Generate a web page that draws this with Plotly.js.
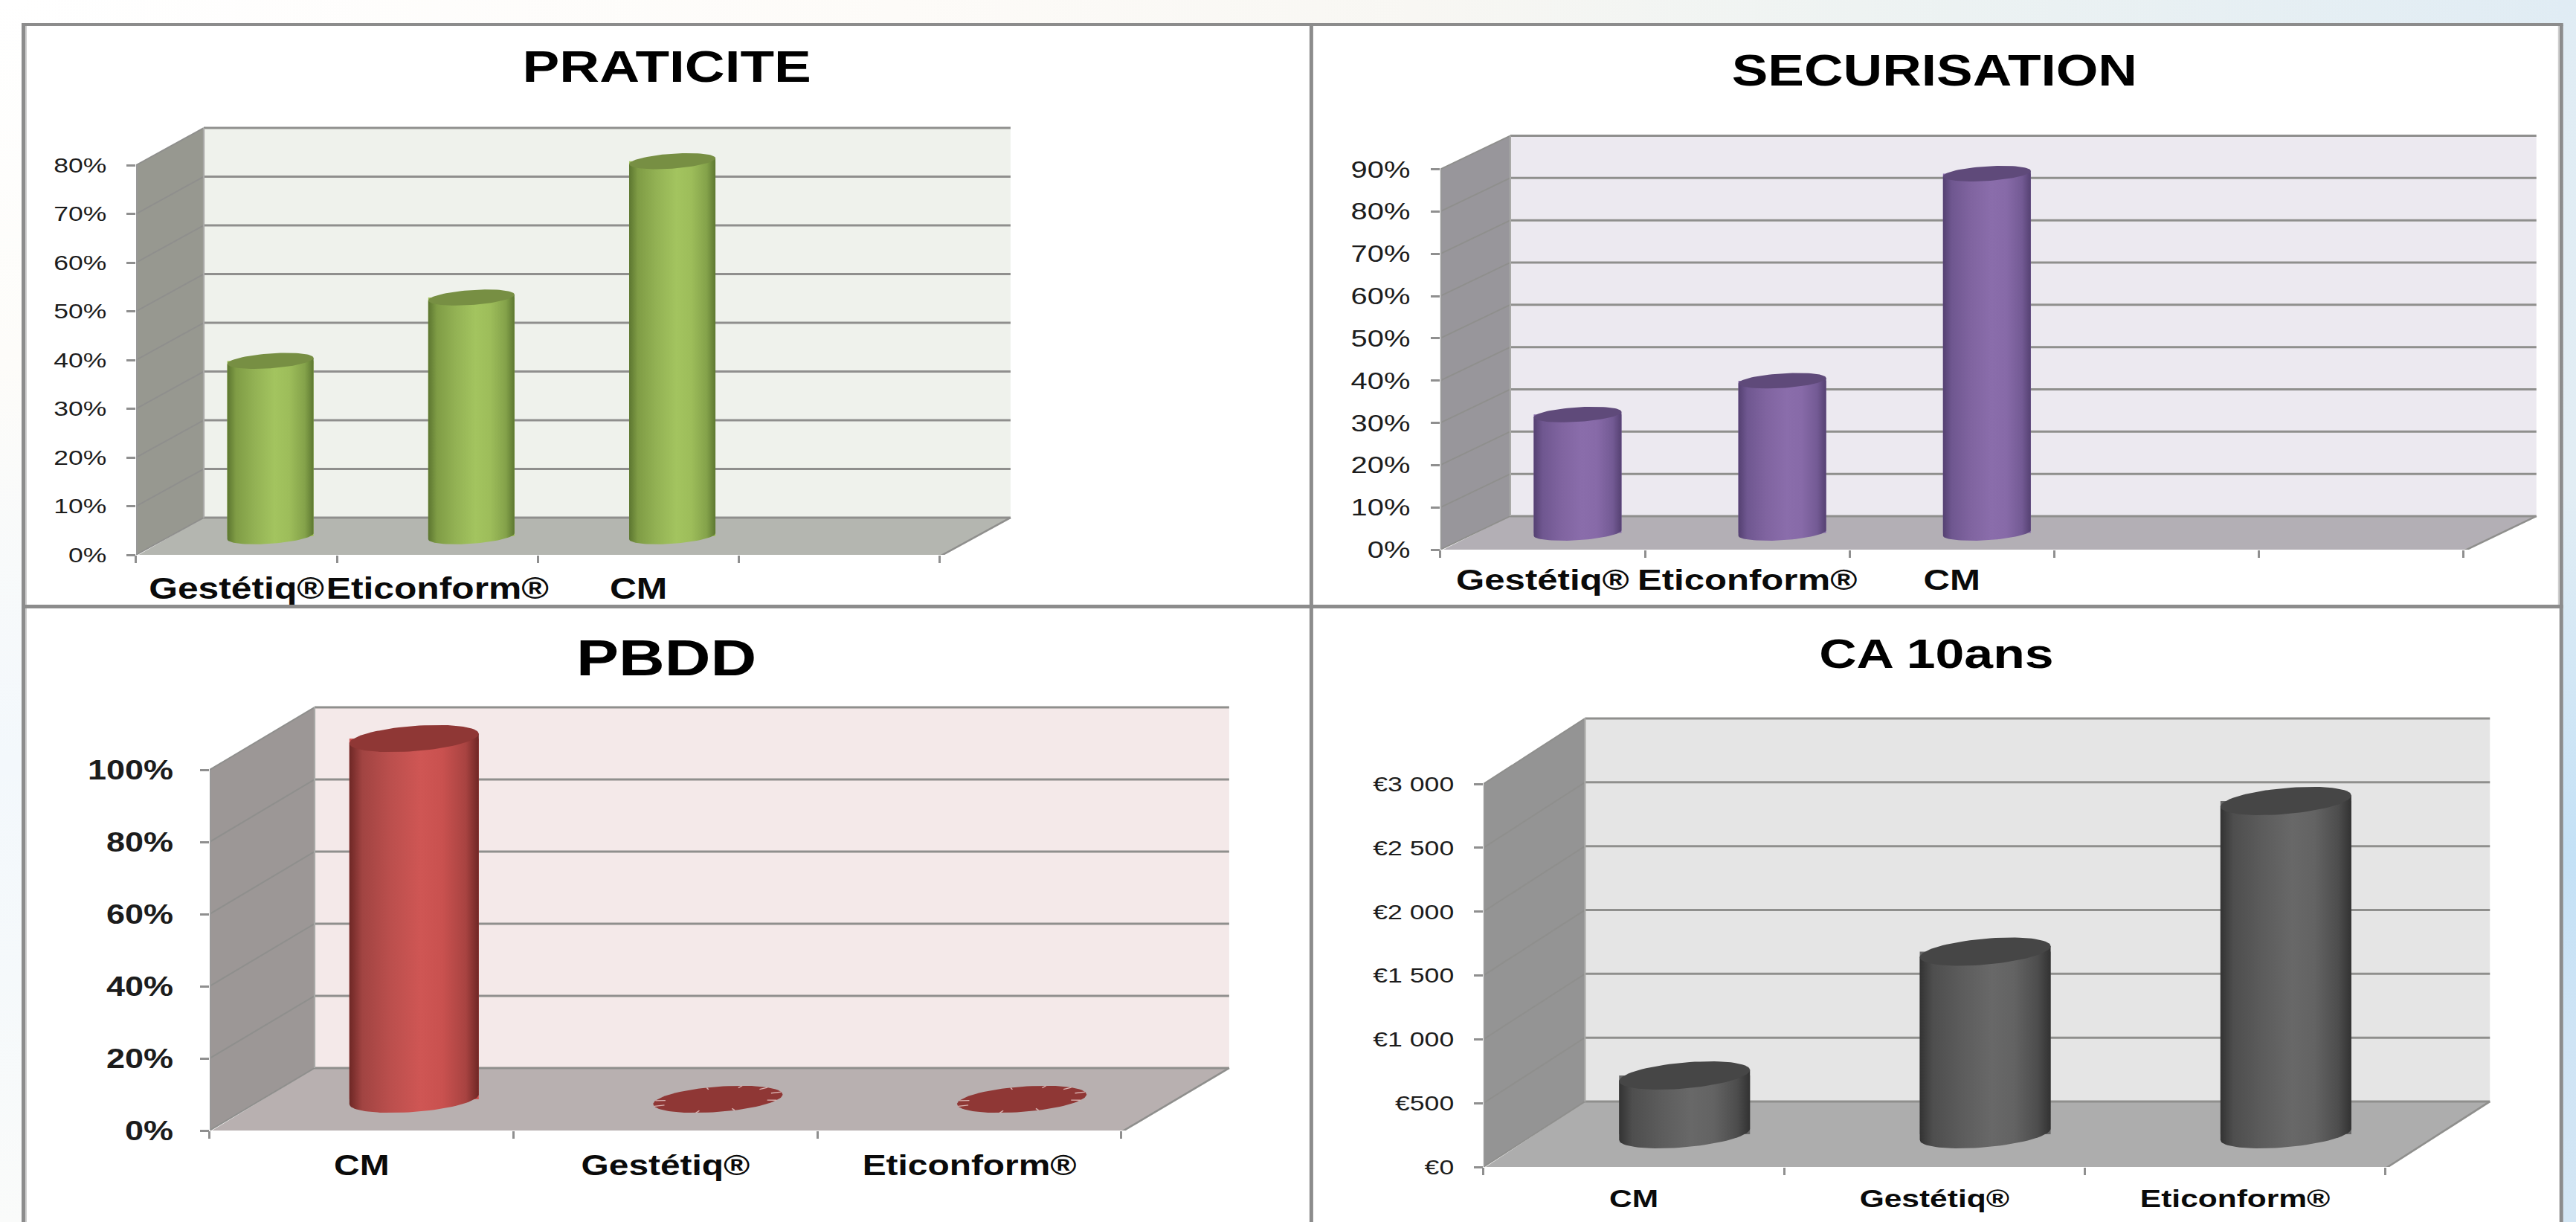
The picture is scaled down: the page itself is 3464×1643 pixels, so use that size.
<!DOCTYPE html>
<html>
<head>
<meta charset="utf-8">
<script src="https://cdn.plot.ly/plotly-3.0.1.min.js"></script>
<style>
html,body{margin:0;padding:0;width:3464px;height:1643px;overflow:hidden;background:#fff}
.bg{position:absolute}
#bgTop{left:0;top:0;width:3464px;height:40px;background:linear-gradient(90deg,#ffffff 0%,#fdfbf8 35%,#f8f7f3 55%,#eef3f2 72%,#e0ecf4 100%)}
#bgRight{left:3440px;top:0;width:24px;height:1643px;background:linear-gradient(180deg,#e0ecf4 0%,#e2edf4 40%,#c4e1f6 70%,#cfe4f5 85%,#d3e6f4 100%)}
#bgLeft{left:0;top:0;width:36px;height:1643px;background:linear-gradient(180deg,#ffffff 0%,#fdfcf9 30%,#f3f8fc 62%,#f5f9fb 80%,#fafbfa 100%)}
#chart{position:absolute;left:0;top:0;transform-origin:0 0}
</style>
</head>
<body>
<div class="bg" id="bgTop"></div><div class="bg" id="bgRight"></div><div class="bg" id="bgLeft"></div>
<div id="chart"></div>
<script>
// ---------- data ----------
const titles = ["PRATICITE", "SECURISATION", "PBDD", "CA 10ans"];
const categoriesA = ["Gestétiq®", "Eticonform®", "CM"];
const categoriesB = ["CM", "Gestétiq®", "Eticonform®"];
const praticite = [36, 49, 77];
const securisation = [28, 36, 85];
const pbdd = [100, 0, 0];
const ca10ans = [460, 1430, 2610];
const pctTicks10to80 = [0, 10, 20, 30, 40, 50, 60, 70, 80];
const pctTicks10to90 = [0, 10, 20, 30, 40, 50, 60, 70, 80, 90];
const pctTicks20to100 = [0, 20, 40, 60, 80, 100];
const euroTicks = [0, 500, 1000, 1500, 2000, 2500, 3000];
const euroLabels = ["€0", "€500", "€1 000", "€1 500", "€2 000", "€2 500", "€3 000"];

// ---------- page geometry (reference pixels) and styles ----------
const W = 3464, H = 1643;
const STRETCH = 1.25;           // the reference is a picture stretched sideways
const plotW = W / STRETCH;
const FONT = '"Liberation Sans", Arial, sans-serif';
const GRID = '#8f8f8d';
const OVER = 4;                 // the back wall runs a little past the floor corner

const panels = [
 {title:titles[0], tx:897, ty:89, tsize:59.7, cats:categoriesA, vals:praticite, slots:4, ticks:pctTicks10to80,
  labels:pctTicks10to80.map(v=>v+'%'), x0:183, x1:1264, yb:746, yt:222, top:80, dx:91, dy:50, a:58, b:10, s:4,
  back:'#eff2ec', floor:'#b4b6b0', side:'#979890',
  scale:['#5c7630','#7f9c45','#93b254','#a3c45f','#9dbd5a','#84a24a','#5d7831'], cap:'#778f43',
  tickSize:28.4, tickWeight:400, catSize:39.8, yStand:16, xStand:8, ticklen:9},
 {title:titles[1], tx:2601, ty:94, tsize:58.3, cats:categoriesA, vals:securisation, slots:5, ticks:pctTicks10to90,
  labels:pctTicks10to90.map(v=>v+'%'), x0:1937, x1:3313, yb:739, yt:227.5, top:90, dx:94, dy:45, a:59, b:9.8, s:3.7,
  back:'#ece9f0', floor:'#b3afb5', side:'#98969b',
  scale:['#544071','#6f5790','#8064a0','#8a6dab','#876aa8','#735a94','#554172'], cap:'#5f4a7a',
  tickSize:31.9, tickWeight:400, catSize:39.3, yStand:16, xStand:4, ticklen:9},
 {title:titles[2], tx:896, ty:884, tsize:68.4, cats:categoriesB, vals:pbdd, slots:3, ticks:pctTicks20to100,
  labels:pctTicks20to100.map(v=>v+'%'), x0:282, x1:1508, yb:1520, yt:1035, top:100, dx:141, dy:84, a:87, b:17, s:6.5,
  back:'#f4e9e9', floor:'#b8b0b0', side:'#9c9796',
  scale:['#6e2725','#a14442','#bb4f4d','#cf5654','#c9514f','#a84341','#6f2725'], cap:'#8f3735',
  tickSize:36, tickWeight:700, catSize:38.3, yStand:22, xStand:11, ticklen:9},
 {title:titles[3], tx:2604, ty:878, tsize:55.8, cats:categoriesB, vals:ca10ans, slots:3, ticks:euroTicks,
  labels:euroLabels, x0:1995, x1:3208, yb:1569, yt:1054, top:3000, dx:136.5, dy:88, a:88, b:17.5, s:7.5,
  back:'#e5e5e5', floor:'#adadad', side:'#949494',
  scale:['#333333','#4e4e4e','#5c5c5c','#686868','#636363','#4d4d4d','#323232'], cap:'#464646',
  tickSize:28.5, tickWeight:400, catSize:34, yStand:16, xStand:9, ticklen:9}
];
const scaleStops = [0, 0.10, 0.32, 0.55, 0.72, 0.9, 1];
const discDashAngles = [12, 40, 68, 100, 165, 190, 250, 285, 335];

const fx = px => px / W;
const fy = px => 1 - px / H;
const traces = [], shapes = [], annotations = [], layout = {};

// panel frames
function paperRect(x0, y0, x1, y1, fill, line) {
  shapes.push({type:'rect', xref:'paper', yref:'paper', layer:'below',
    x0:fx(x0), x1:fx(x1), y0:fy(y1), y1:fy(y0), fillcolor:fill, line:{width:0}});
}
paperRect(32, 33, 3445, 1650, '#ffffff');
[[29,33,34,1650],[3442,33,3447,1650],[1761,33,1766,1650],[29,31,3447,35],[29,813,3447,818]]
  .forEach(r => paperRect(r[0], r[1], r[2], r[3], '#8c8c8c'));
[[34,35,36,813],[34,818,36,1650],[3440,35,3442,813]].forEach(r => paperRect(r[0], r[1], r[2], r[3], '#cfcfcf'));

panels.forEach((p, k) => {
  const id = k === 0 ? '' : String(k + 1);
  const xa = 'x' + id, ya = 'y' + id;
  const cat = (p.x1 - p.x0) / p.slots;
  const unit = (p.yb - p.yt) / p.top;
  const ux = px => px / cat, uy = px => px / unit;
  const dX = ux(p.dx), dY = uy(p.dy), n = p.slots, T = p.top;
  const pad = 4 + OVER;
  const backEnd = n + dX + ux(OVER);

  layout['xaxis' + id] = {
    domain:[fx(p.x0), fx(p.x1 + p.dx + pad)], range:[0, n + dX + ux(pad)], anchor:ya,
    type:'linear', tickmode:'array',
    tickvals:p.cats.map((c, i) => i + 0.5), ticktext:p.cats, tickangle:0, ticks:'',
    ticklen:10, ticklabelstandoff:p.xStand + 10,
    tickfont:{family:FONT, size:p.catSize, color:'#0a0a0a', weight:700},
    minor:{tickmode:'array', tickvals:Array.from({length:n + 1}, (_, i) => i), ticks:'outside',
           ticklen:10, tickwidth:2.4, tickcolor:'#8f8f8f', showgrid:false},
    showgrid:false, zeroline:false, showline:false, fixedrange:true
  };
  layout['yaxis' + id] = {
    domain:[fy(p.yb), fy(p.yt - p.dy - 4)], range:[0, T + dY + uy(4)], anchor:xa,
    type:'linear', tickmode:'array', tickvals:p.ticks, ticktext:p.labels,
    ticks:'outside', ticklen:p.ticklen, tickwidth:3, tickcolor:'#8f8f8f', ticklabelstandoff:p.yStand,
    tickfont:{family:FONT, size:p.tickSize, color:'#1c1c1c', weight:p.tickWeight},
    showgrid:false, zeroline:false, showline:false, fixedrange:true
  };

  const poly = (pts, fill) => shapes.push({type:'path', xref:xa, yref:ya, layer:'below',
    path:'M' + pts.map(q => q[0] + ',' + q[1]).join(' L') + ' Z', fillcolor:fill, line:{width:0}});
  const seg = (x0, y0, x1, y1, color, width) => shapes.push({type:'line', xref:xa, yref:ya, layer:'below',
    x0, y0, x1, y1, line:{color, width}});

  poly([[0,0],[dX,dY],[dX,T+dY],[0,T]], p.side);
  poly([[0,-uy(2)],[dX,dY],[backEnd,dY],[n,-uy(2)]], p.floor);
  poly([[dX,dY],[backEnd,dY],[backEnd,T+dY],[dX,T+dY]], p.back);
  p.ticks.forEach(v => {
    seg(0, v, dX, v + dY, GRID, 1.8);
    seg(dX, v + dY, backEnd, v + dY, GRID, 3);
  });
  seg(dX, dY, dX, T + dY, '#a8a8a6', 1.8);
  seg(n, -uy(2), backEnd, dY, GRID, 2.4);

  // front edges (drawn unclipped, they sit on the axes)
  traces.push({type:'scatter', mode:'lines', xaxis:xa, yaxis:ya, cliponaxis:false, hoverinfo:'skip', showlegend:false,
    x:[0, 0, n, 0], y:[T, -uy(2), -uy(2), -uy(2)], line:{color:'#989898', width:3}});

  // cylinders: bar = the body between the centres of both end ellipses
  const cx = p.vals.map((v, i) => i + 0.5 + dX / 2);
  const baseY = dY / 2;
  traces.push({type:'bar', xaxis:xa, yaxis:ya, x:cx, y:p.vals, base:p.vals.map(() => baseY),
    width:ux(2 * p.a), marker:{color:p.scale[3], line:{width:0}}, text:p.cats, textposition:'none',
    hoverinfo:'skip', showlegend:false});
  const colorscale = p.scale.map((c, i) => [scaleStops[i], c]);
  const point = (xc, yc, t) => [xc + ux(p.a * Math.cos(t)), yc + uy(p.b * Math.sin(t) + p.s * Math.cos(t))];
  const angles = (a0, a1, m) => Array.from({length:m + 1}, (_, j) => a0 + (a1 - a0) * j / m);

  p.vals.forEach((v, i) => {
    const xc = cx[i], topY = baseY + v;
    if (v > 0) {
      const lower = angles(Math.PI, 2 * Math.PI, 40).map(t => point(xc, baseY, t));
      const upper = [point(xc, topY, 0), point(xc, topY, Math.PI)];
      const body = lower.concat(upper); body.push(lower[0]);
      traces.push({type:'scatter', mode:'lines', xaxis:xa, yaxis:ya, hoverinfo:'skip', showlegend:false,
        x:body.map(q => q[0]), y:body.map(q => q[1]), fill:'toself', line:{width:0, color:p.scale[0]},
        fillgradient:{type:'horizontal', colorscale}});
    }
    const cap = angles(0, 2 * Math.PI, 80).map(t => point(xc, topY, t));
    traces.push({type:'scatter', mode:'lines', xaxis:xa, yaxis:ya, hoverinfo:'skip', showlegend:false,
      x:cap.map(q => q[0]), y:cap.map(q => q[1]), fill:'toself', fillcolor:p.cap, line:{width:0, color:p.cap}});
    if (v === 0) {
      const dashX = [], dashY = [];
      discDashAngles.forEach(deg => {
        const t = deg * Math.PI / 180;
        const o = point(xc, topY, t);
        const m = [xc + (o[0] - xc) * 0.84, topY + (o[1] - topY) * 0.84];
        dashX.push(m[0], o[0], null); dashY.push(m[1], o[1], null);
      });
      traces.push({type:'scatter', mode:'lines', xaxis:xa, yaxis:ya, hoverinfo:'skip', showlegend:false,
        x:dashX, y:dashY, line:{color:'#d9b3b1', width:1.4}});
    }
  });

  annotations.push({xref:'paper', yref:'paper', x:fx(p.tx), y:fy(p.ty), xanchor:'center', yanchor:'middle',
    showarrow:false, text:p.title, font:{family:FONT, size:p.tsize, color:'#000000', weight:700}});
});

Object.assign(layout, {
  width:plotW, height:H, margin:{l:0, r:0, t:0, b:0, pad:0},
  paper_bgcolor:'rgba(0,0,0,0)', plot_bgcolor:'rgba(0,0,0,0)',
  showlegend:false, hovermode:false, barmode:'overlay', shapes, annotations
});
const el = document.getElementById('chart');
el.style.transform = 'scale(' + STRETCH + ',1)';
Plotly.newPlot(el, traces, layout, {displayModeBar:false, staticPlot:true});
</script>
</body>
</html>
